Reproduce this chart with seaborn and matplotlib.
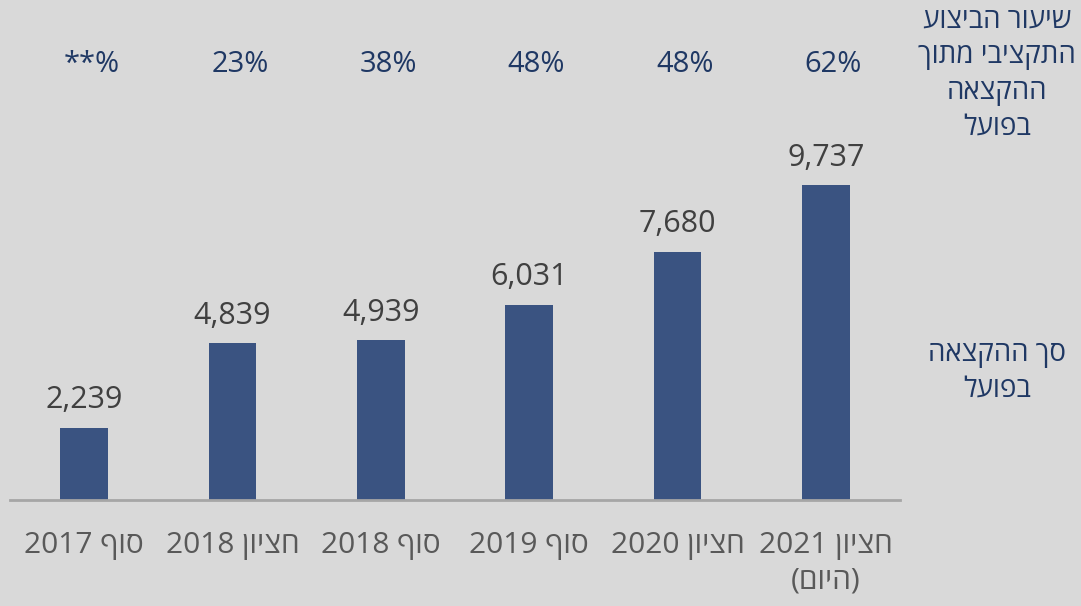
import matplotlib
matplotlib.use("Agg")
import matplotlib.pyplot as plt
import matplotlib.transforms as mtransforms
import pandas as pd
import seaborn as sns

# data
periods = ["סוף 2017", "חציון 2018", "סוף 2018", "סוף 2019", "חציון 2020", "חציון 2021\n(היום)"]
allocation = [2239, 4839, 4939, 6031, 7680, 9737]
execution_rate = ["**%", "23%", "38%", "48%", "48%", "62%"]
label_rate = "שיעור הביצוע\nהתקציבי מתוך\nההקצאה\nבפועל"
label_total = "סך ההקצאה\nבפועל"

BAR = "#3a5381"
NAVY = "#1f3864"
BG = "#d9d9d9"

MIRROR = str.maketrans("()", ")(")


def is_hebrew(word):
    return any("\u0590" <= ch <= "\u05ff" for ch in word)


def vis(text):
    # matplotlib has no bidi: lay out each RTL line in visual order
    out = []
    for line in text.split("\n"):
        words = line.split(" ")[::-1]
        words = [w[::-1].translate(MIRROR) if is_hebrew(w) else w for w in words]
        out.append(" ".join(words))
    return "\n".join(out)


df = pd.DataFrame({"period": periods, "allocation": allocation})

sns.set_theme(style="white")
plt.rcParams["font.family"] = ["Open Sans", "DejaVu Sans"]

fig = plt.figure(figsize=(10.81, 6.06), dpi=100, facecolor=BG)
ax = fig.add_axes([10 / 1081, 106 / 606, 890 / 1081, 460 / 606])
ax.set_facecolor(BG)

sns.barplot(data=df, x="period", y="allocation", color=BAR, width=0.32,
            saturation=1, linewidth=0, edgecolor="none", ax=ax)

ax.set_xlim(-0.5, 5.5)
ax.set_ylim(0, 460 / 315 * 9737)

ax.bar_label(ax.containers[0], labels=[f"{v:,}" for v in allocation],
             padding=9, fontsize=22, color="#404040")

ax.set_xticks(range(len(periods)))
ax.set_xticklabels([vis(p) for p in periods], fontsize=21.5, color="#595959",
                   linespacing=1.3, va="top")
ax.tick_params(axis="x", length=0, pad=22)
ax.set_yticks([])
ax.set_xlabel("")
ax.set_ylabel("")

for side in ["top", "left", "right"]:
    ax.spines[side].set_visible(False)
ax.spines["bottom"].set_color("#a6a6a6")
ax.spines["bottom"].set_linewidth(2)

trans = mtransforms.blended_transform_factory(ax.transData, fig.transFigure)
for i, pct in enumerate(execution_rate):
    ax.text(i + 0.05, 1 - 64 / 606, pct, transform=trans, ha="center",
            va="center", fontsize=21, color=NAVY)

fig.text(997 / 1081, 1 - 74 / 606, vis(label_rate), ha="center", va="center",
         fontsize=20, color=NAVY, linespacing=1.36)
fig.text(997 / 1081, 1 - 372 / 606, vis(label_total), ha="center", va="center",
         fontsize=20, color=NAVY, linespacing=1.36)

fig.savefig("out.png", dpi=100, facecolor=BG)
